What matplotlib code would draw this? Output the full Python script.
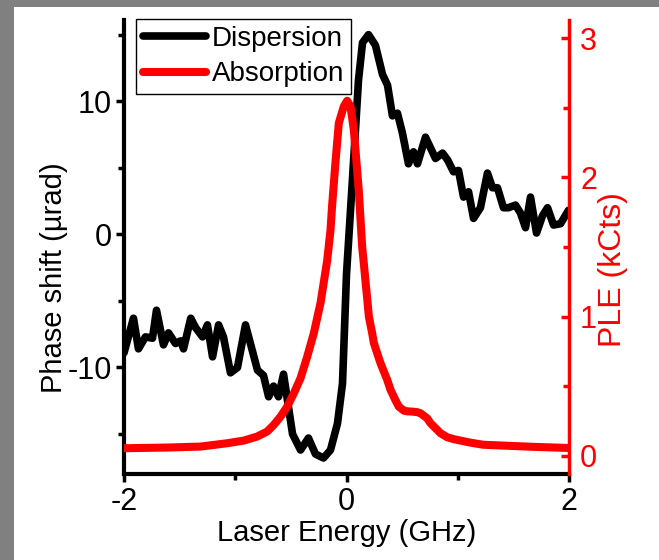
import matplotlib
matplotlib.use("Agg")
import matplotlib.pyplot as plt
from matplotlib.patches import Rectangle
from matplotlib.lines import Line2D

plt.rcParams['font.family'] = ['Liberation Sans', 'DejaVu Sans']
plt.rcParams['axes.unicode_minus'] = False

# Dispersion (phase shift, µrad) vs laser energy (GHz)
disp_x = [-2.0, -1.915, -1.87, -1.807, -1.744, -1.708, -1.645, -1.60, -1.537, -1.49,
          -1.465, -1.40, -1.357, -1.294, -1.25, -1.204, -1.15, -1.106, -1.043, -0.98,
          -0.908, -0.80, -0.746, -0.70, -0.656, -0.611, -0.566, -0.53, -0.485, -0.413,
          -0.342, -0.279, -0.207, -0.144, -0.081, -0.036, 0.0, 0.054, 0.108, 0.144,
          0.198, 0.26, 0.324, 0.369, 0.413, 0.458, 0.503, 0.557, 0.602, 0.638,
          0.71, 0.80, 0.863, 0.908, 0.962, 1.007, 1.052, 1.097, 1.142, 1.204,
          1.267, 1.312, 1.357, 1.411, 1.456, 1.519, 1.564, 1.609, 1.654, 1.708,
          1.762, 1.807, 1.861, 1.924, 1.995]
disp_y = [-8.9, -6.3, -8.6, -7.7, -7.8, -5.7, -8.3, -7.4, -8.2, -8.0,
          -8.6, -6.3, -7.0, -7.7, -6.8, -9.2, -6.8, -7.7, -10.4, -10.0,
          -6.8, -10.2, -10.6, -12.2, -11.4, -12.2, -10.5, -12.5, -15.0, -16.2,
          -15.3, -16.5, -16.8, -16.2, -14.2, -11.2, -3.0, 4.2, 11.6, 14.4,
          15.0, 14.2, 12.0, 11.2, 8.9, 9.1, 7.6, 5.3, 6.2, 5.3,
          7.3, 5.7, 6.1, 5.6, 4.7, 4.8, 2.8, 3.2, 1.2, 2.0,
          4.6, 3.5, 3.5, 2.0, 2.0, 2.2, 1.6, 0.5, 2.8, 0.1,
          1.4, 2.0, 0.7, 0.8, 1.8]

# Absorption (PLE, kCts) vs laser energy (GHz)
abs_x = [-2.0, -1.612, -1.312, -1.072, -0.923, -0.803, -0.713, -0.653, -0.593, -0.533,
         -0.473, -0.413, -0.353, -0.294, -0.234, -0.174, -0.144, -0.129, -0.10, -0.069,
         -0.024, 0.006, 0.036, 0.066, 0.11, 0.141, 0.156, 0.171, 0.186, 0.201,
         0.231, 0.246, 0.276, 0.306, 0.366, 0.396, 0.44, 0.47, 0.515, 0.545,
         0.59, 0.636, 0.665, 0.725, 0.755, 0.815, 0.845, 0.905, 0.965, 1.025,
         1.115, 1.23, 1.68, 1.99]
abs_y = [0.055, 0.06, 0.067, 0.091, 0.11, 0.139, 0.175, 0.223, 0.282, 0.354,
         0.45, 0.558, 0.713, 0.88, 1.096, 1.40, 1.62, 1.80, 2.10, 2.39,
         2.51, 2.55, 2.51, 2.34, 1.91, 1.50, 1.38, 1.25, 1.13, 1.0,
         0.88, 0.81, 0.737, 0.665, 0.546, 0.474, 0.40, 0.354, 0.325, 0.32,
         0.318, 0.314, 0.306, 0.27, 0.235, 0.187, 0.163, 0.134, 0.12, 0.11,
         0.095, 0.08, 0.065, 0.057]

x_major = [-2, 0, 2]
x_minor = [-1, 1]
yl_major = [-10, 0, 10]
yl_minor = [-15, -5, 5, 15]
yr_major = [0, 1, 2, 3]
yr_minor = [0.5, 1.5, 2.5]

W, H = 659, 560
fig = plt.figure(figsize=(W / 100, H / 100), dpi=100, facecolor='#808080')
fig.patches.append(Rectangle((14 / W, 0), 1, 1 - 7 / H, transform=fig.transFigure,
                             facecolor='white', edgecolor='none', zorder=-10))

ax = fig.add_axes([124 / W, 1 - 474 / H, 445 / W, 454 / H])
ax.patch.set_alpha(0)
ax2 = ax.twinx()

ax.plot(disp_x, disp_y, color='black', lw=5.5, solid_joinstyle='round', solid_capstyle='round')
ax2.plot(abs_x, abs_y, color='red', lw=5.8, solid_joinstyle='round', solid_capstyle='round')

ax.set_xlim(-2, 2)
ax.set_ylim(-18.0, 16.1)
ax2.set_ylim(-0.13, 3.13)

ax.set_xticks(x_major)
ax.set_xticks(x_minor, minor=True)
ax.set_xticklabels([str(v) for v in x_major])
ax.set_yticks(yl_major)
ax.set_yticks(yl_minor, minor=True)
ax.set_yticklabels([str(v) for v in yl_major])
ax2.set_yticks(yr_major)
ax2.set_yticks(yr_minor, minor=True)
ax2.set_yticklabels([str(v) for v in yr_major])

for a in (ax, ax2):
    a.spines['top'].set_visible(False)
ax.spines['right'].set_visible(False)
ax2.spines['left'].set_visible(False)
ax2.spines['bottom'].set_visible(False)
ax.spines['left'].set_linewidth(3)
ax.spines['bottom'].set_linewidth(3)
ax2.spines['right'].set_linewidth(2.5)
ax2.spines['right'].set_color('red')

ax.tick_params(axis='both', which='major', direction='out', length=6, width=2.5,
               labelsize=22, color='black', pad=3)
ax.tick_params(axis='both', which='minor', direction='out', length=4, width=2.5, color='black')
ax2.tick_params(axis='y', which='major', direction='in', length=6, width=2.5,
                labelsize=22, colors='red', pad=8)
ax2.tick_params(axis='y', which='minor', direction='in', length=4, width=2.5, colors='red')

ax.set_xlabel('Laser Energy (GHz)', fontsize=21, labelpad=2)
ax.set_ylabel('Phase shift (\u00b5rad)', fontsize=21)
ax.yaxis.set_label_coords(-0.125, 0.432)
ax2.set_ylabel('PLE (kCts)', fontsize=23, color='red')
ax2.yaxis.set_label_coords(1.066, 0.45)

handles = [Line2D([], [], color='black', lw=5.5, solid_capstyle='round'),
           Line2D([], [], color='red', lw=5.8, solid_capstyle='round')]
leg = ax2.legend(handles, ['Dispersion', 'Absorption'], loc='upper left',
                 bbox_to_anchor=(0.026, 1.003), borderaxespad=0, fontsize=20,
                 frameon=True, fancybox=False, edgecolor='black', framealpha=1,
                 handlelength=2.3, handletextpad=0.2, borderpad=0.25, labelspacing=0.35)
leg.get_frame().set_linewidth(1)

fig.savefig('out.png', dpi=100, facecolor=fig.get_facecolor())
